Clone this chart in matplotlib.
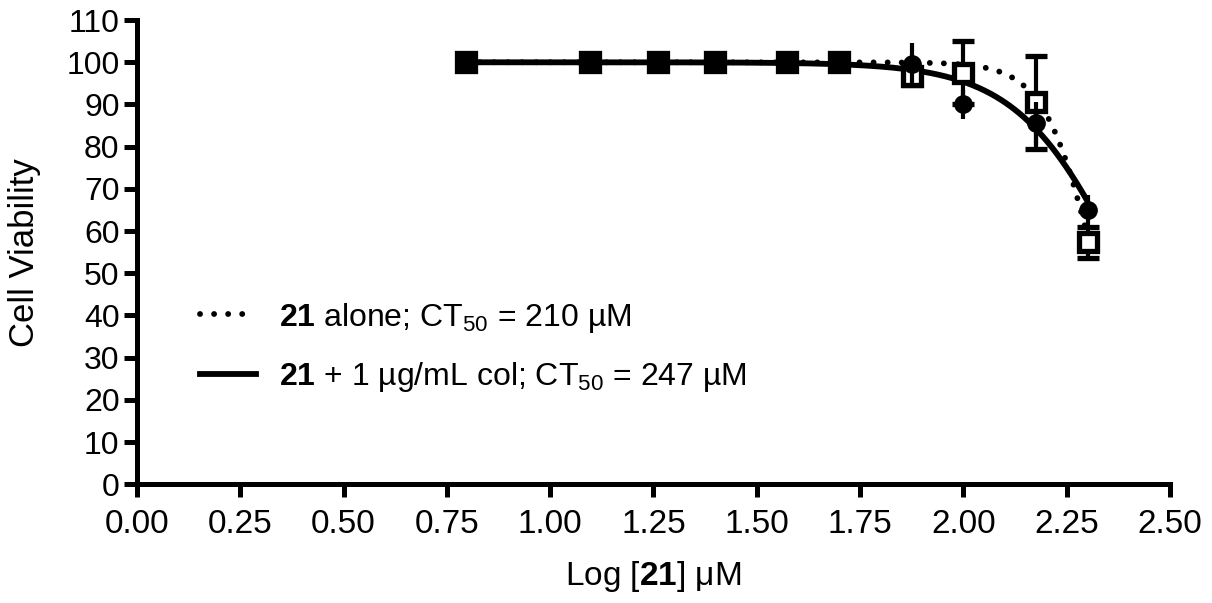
import numpy as np
import matplotlib
matplotlib.use("Agg")
import matplotlib.pyplot as plt
from matplotlib.lines import Line2D

plt.rcParams['font.family'] = ['Liberation Sans', 'DejaVu Sans']
plt.rcParams['mathtext.fontset'] = 'custom'
plt.rcParams['mathtext.rm'] = 'Liberation Sans'
plt.rcParams['mathtext.it'] = 'Liberation Sans:italic'
plt.rcParams['mathtext.bf'] = 'Liberation Sans:bold'

# ---- data ----
log_conc = [0.796, 1.097, 1.26, 1.398, 1.574, 1.699, 1.875, 2.0, 2.176, 2.301]
alone_mean = [100, 100, 100, 100, 100, 100, 96.7, 97.5, 90.5, 57.3]
alone_err = [0, 0, 0, 0, 0, 0, 2.0, 7.5, 11.0, 3.7]
col_mean = [100, 100, 100, 100, 100, 100, 99.5, 90.0, 85.5, 65.0]
col_err = [0, 0, 0, 0, 0, 0, 5.0, 3.4, 5.0, 3.5]

# fit parameters (CT50 in uM, Hill slope)
ct50_alone, hill_alone = 210.0, 7.0
ct50_col, hill_col = 247.0, 3.35

label_alone = r"$\mathbf{21}$ alone; CT$_{50}$ = 210 µM"
label_col = r"$\mathbf{21}$ + 1 µg/mL col; CT$_{50}$ = 247 µM"

x_ticks = [0.00, 0.25, 0.50, 0.75, 1.00, 1.25, 1.50, 1.75, 2.00, 2.25, 2.50]
y_ticks = list(range(0, 111, 10))


def hill(x, ct50, h):
    return 100.0 / (1.0 + 10 ** (h * (x - np.log10(ct50))))


fig = plt.figure(figsize=(12.12, 6.03), dpi=100)
ax = fig.add_axes([0.113, 0.197, 0.8523, 0.7697])

xs = np.linspace(min(log_conc), max(log_conc), 400)
ax.plot(xs, hill(xs, ct50_col, hill_col), color='black', lw=4.2,
        solid_capstyle='butt', zorder=2)
ax.plot(xs, hill(xs, ct50_alone, hill_alone), color='black', lw=4.2,
        linestyle=(0, (0.01, 2.4)), dash_capstyle='round', zorder=2)

ax.errorbar(log_conc, alone_mean, yerr=alone_err, fmt='s', ms=12.3,
            mfc='white', mec='black', mew=3.8, ecolor='black', elinewidth=3,
            capsize=8, capthick=3, zorder=3)
ax.errorbar(log_conc, col_mean, yerr=col_err, fmt='o', ms=13.5,
            mfc='black', mec='black', mew=0, ecolor='black', elinewidth=3,
            capsize=8, capthick=3, zorder=4)

ax.set_xlim(0, 2.5)
ax.set_ylim(0, 110)
ax.set_xticks(x_ticks)
ax.set_xticklabels([f"{t:.2f}" for t in x_ticks])
ax.set_yticks(y_ticks)
ax.set_yticklabels([str(t) for t in y_ticks])

for s in ['top', 'right']:
    ax.spines[s].set_visible(False)
for s in ['left', 'bottom']:
    ax.spines[s].set_linewidth(3.6)
ax.tick_params(axis='both', direction='out', length=9.5, width=3.6)
ax.tick_params(axis='x', labelsize=24, pad=8)
ax.tick_params(axis='y', labelsize=23, pad=3)

ax.set_ylabel("Cell Viability", fontsize=25, labelpad=18)
ax.set_xlabel(r"Log [$\mathbf{21}$] μM", fontsize=24, labelpad=14)

handles = [Line2D([], [], color='black', lw=4.2, linestyle=(0, (0.01, 2.4)),
                  dash_capstyle='round'),
           Line2D([], [], color='black', lw=4.2)]
ax.legend(handles, [label_alone, label_col], loc='center left',
          bbox_to_anchor=(0.061, 0.295), frameon=False, fontsize=23,
          handlelength=1.75, handletextpad=0.72, labelspacing=0.8,
          borderaxespad=0, borderpad=0)

fig.savefig("out.png", dpi=100)
